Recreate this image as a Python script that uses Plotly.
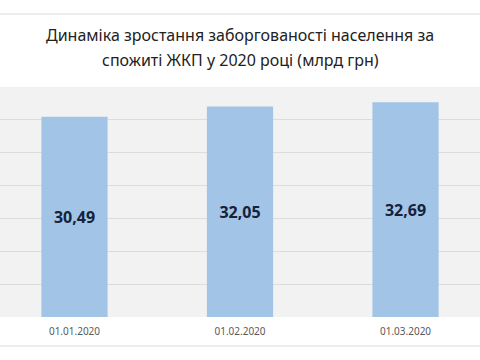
import plotly.graph_objects as go

categories = ["01.01.2020", "01.02.2020", "01.03.2020"]
values = [30.49, 32.05, 32.69]
title_lines = ["Динаміка зростання заборгованості населення за",
               "спожиті ЖКП у 2020 році (млрд грн)"]

fig = go.Figure()
fig.add_trace(go.Bar(
    x=categories, y=values, width=0.4,
    marker=dict(color="#a2c4e6", line=dict(width=0)),
    texttemplate="%{y:.2f}", textposition="inside", insidetextanchor="middle",
    textfont=dict(family="Noto Sans", size=16, color="#16213a", weight="bold"),
    hoverinfo="skip",
))

title_y = [35, 60]
annotations = [dict(text=t, xref="paper", yref="paper", x=0.5, y=(317-py)/230,
                    xanchor="center", yanchor="middle", showarrow=False,
                    font=dict(family="Noto Sans", size=16, color="#222222"))
               for t, py in zip(title_lines, title_y)]

fig.update_layout(
    width=480, height=360,
    margin=dict(l=0, r=0, t=87, b=43),
    paper_bgcolor="white", plot_bgcolor="#f2f2f2",
    separators=",.",
    showlegend=False,
    font=dict(family="Noto Sans"),
    xaxis=dict(range=[-0.45, 2.45], showgrid=False, zeroline=False, showline=False,
               tickfont=dict(size=10, color="#595959"), ticks="", ticklabelstandoff=7),
    yaxis=dict(range=[0, 35], dtick=5, showticklabels=False, gridcolor="#dcdcdc",
               gridwidth=1, zeroline=False, showline=False),
    annotations=annotations,
    shapes=[
        dict(type="line", xref="paper", yref="paper", x0=0, x1=1, y0=(317-14)/230, y1=(317-14)/230,
             line=dict(color="#d9d9d9", width=1)),
        dict(type="line", xref="paper", yref="paper", x0=0, x1=1, y0=(317-346)/230, y1=(317-346)/230,
             line=dict(color="#d9d9d9", width=1)),
    ],
)

fig.write_html("out.html")
